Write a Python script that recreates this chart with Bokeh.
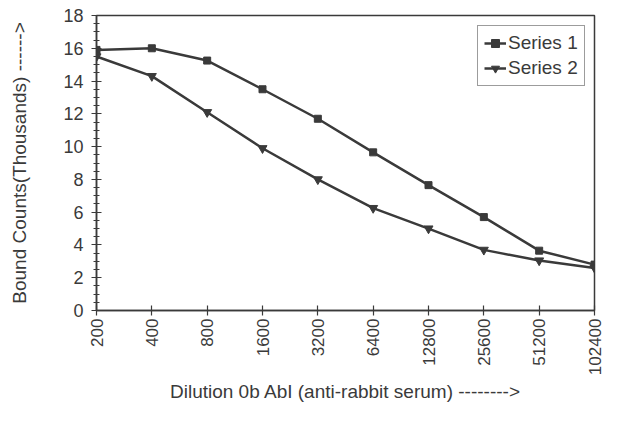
import math
from bokeh.plotting import figure
from bokeh.models import FixedTicker, Legend, LegendItem, ColumnDataSource
from bokeh.embed import file_html
from bokeh.resources import INLINE

dilutions = ["200", "400", "800", "1600", "3200", "6400", "12800", "25600", "51200", "102400"]
series1 = [15.9, 16.0, 15.25, 13.5, 11.7, 9.65, 7.65, 5.7, 3.65, 2.8]
series2 = [15.5, 14.3, 12.1, 9.9, 8.0, 6.25, 5.0, 3.7, 3.05, 2.6]
y_ticks = [0, 2, 4, 6, 8, 10, 12, 14, 16, 18]

idx = list(range(len(dilutions)))
src = ColumnDataSource(dict(x=idx, s1=series1, s2=series2))

ink = "#3a3a3a"
font = "Liberation Sans"

p = figure(width=605, height=405, output_backend="svg", toolbar_location=None,
           x_range=(0, len(dilutions) - 1), y_range=(0, 18),
           min_border_left=96, min_border_right=11, min_border_top=15, min_border_bottom=94)
p.background_fill_color = "white"
p.border_fill_color = "white"
p.outline_line_color = ink
p.outline_line_width = 1.5
p.grid.visible = False

# x axis
p.xaxis.ticker = FixedTicker(ticks=idx)
p.xaxis.major_label_overrides = {i: d for i, d in enumerate(dilutions)}
p.xaxis.major_label_orientation = math.pi / 2
p.xaxis.axis_label = "Dilution 0b AbI (anti-rabbit serum) -------->"
# y axis
p.yaxis.ticker = FixedTicker(ticks=y_ticks, minor_ticks=[i * 0.5 for i in range(37)])
p.yaxis.axis_label = "Bound Counts(Thousands) ------>"

for ax in (p.xaxis[0], p.yaxis[0]):
    ax.axis_line_color = ink
    ax.axis_line_width = 1.5
    ax.major_tick_line_color = ink
    ax.major_tick_line_width = 1.2
    ax.major_tick_in = 5
    ax.major_tick_out = 5
    ax.minor_tick_line_color = ink
    ax.minor_tick_in = 3
    ax.minor_tick_out = 3
    ax.major_label_text_font = font
    ax.major_label_text_color = ink
    ax.axis_label_text_font = font
    ax.axis_label_text_font_style = "normal"
    ax.axis_label_text_color = ink

p.xaxis.major_label_text_font_size = "17px"
p.yaxis.major_label_text_font_size = "18px"
p.xaxis.axis_label_text_font_size = "19px"
p.yaxis.axis_label_text_font_size = "19px"
p.xaxis.minor_tick_line_color = None
p.xaxis.major_label_standoff = 3
p.xaxis.axis_label_standoff = 3
p.yaxis.major_label_standoff = 8
p.yaxis.axis_label_standoff = 30

l1 = p.line("x", "s1", source=src, line_color=ink, line_width=2.5)
m1 = p.scatter("x", "s1", source=src, marker="square", size=7, fill_color=ink, line_color=ink)
l2 = p.line("x", "s2", source=src, line_color=ink, line_width=2.5)
m2 = p.scatter("x", "s2", source=src, marker="inverted_triangle", size=9, fill_color=ink, line_color=ink)

legend = Legend(items=[LegendItem(label="Series 1", renderers=[l1, m1]),
                       LegendItem(label="Series 2", renderers=[l2, m2])],
                location=(381, 224))
legend.label_text_font = font
legend.label_text_font_size = "19px"
legend.label_text_color = ink
legend.border_line_color = ink
legend.border_line_width = 1.5
legend.glyph_width = 22
legend.label_standoff = 2
legend.padding = 6
legend.spacing = 3
legend.margin = 0
p.add_layout(legend)

open("out.html", "w").write(file_html(p, INLINE))
